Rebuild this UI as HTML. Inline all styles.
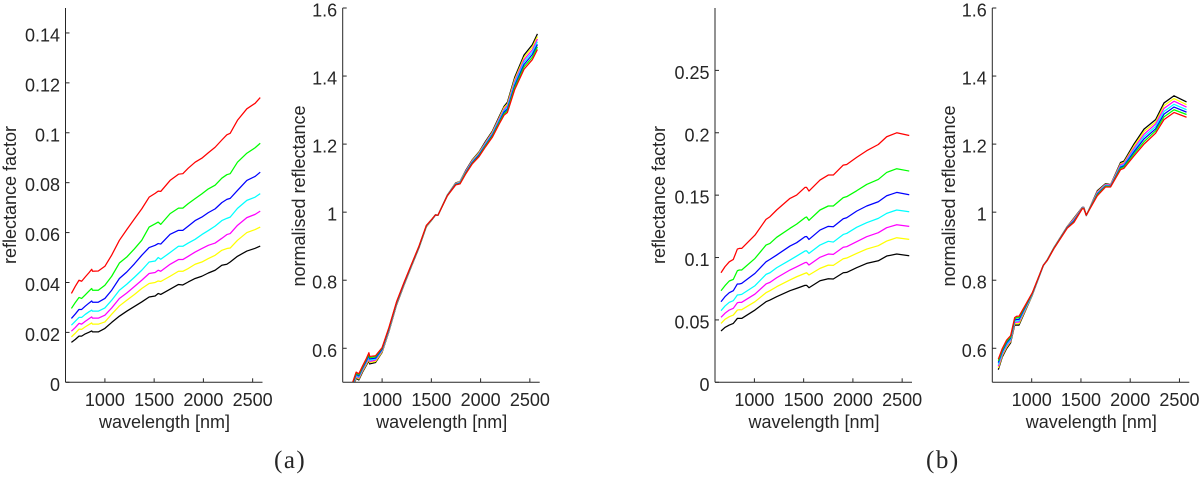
<!DOCTYPE html>
<html lang="en">
<head>
<meta charset="utf-8">
<title>Reflectance spectra</title>
<style>
html,body{margin:0;padding:0;background:#fff;width:1200px;height:478px;overflow:hidden}
svg{display:block}
text{font-family:"Liberation Sans",sans-serif;font-size:18px;fill:#262626}
.caption{font-family:"Liberation Serif",serif;font-size:25px;letter-spacing:1.5px}
</style>
</head>
<body>
<svg id="chart" width="1200" height="478" viewBox="0 0 1200 478" xmlns="http://www.w3.org/2000/svg">
<text class="caption" x="274" y="468">(a)</text>
<text class="caption" x="926" y="468">(b)</text>
</svg>
<script>
const seriesNames = ['black','yellow','magenta','cyan','blue','green','red'];
const seriesColors = ['#000000','#ffff00','#ff00ff','#00ffff','#0000ff','#00ff00','#ff0000'];
const xTicks = [1000,1500,2000,2500];
const yTicksA = [0,0.02,0.04,0.06,0.08,0.1,0.12,0.14];
const yTicksB = [0.6,0.8,1,1.2,1.4,1.6];
const yTicksC = [0,0.05,0.1,0.15,0.2,0.25];
const yTicksD = [0.6,0.8,1,1.2,1.4,1.6];

const wavelengthsAB = [660,700,737,764,800,840,866,874,933,1000,1069,1147,1222,1300,1374,1449,1510,1541,1567,1662,1747,1791,1846,1916,1984,2050,2119,2187,2238,2272,2346,2441,2525,2577];
const wavelengthsCD = [661,701,745,786,827,847,871,1006,1118,1158,1226,1361,1429,1513,1530,1554,1666,1750,1801,1902,1937,2038,2140,2258,2343,2445,2572];

const reflA = {
  red:[.0356,.0385,.0409,.0405,.0422,.044,.0453,.0445,.0446,.0465,.051,.0569,.0612,.0655,.0695,.0742,.0757,.0766,.0765,.0809,.0834,.0836,.0858,.0882,.0898,.092,.0942,.0971,.0992,.0998,.105,.1096,.1118,.1141],
  green:[.0296,.032,.034,.0336,.035,.0366,.0376,.0369,.0369,.0389,.0425,.0478,.0502,.0535,.0569,.0622,.0635,.0642,.0633,.0676,.0698,.0698,.0716,.0736,.0755,.0775,.079,.0818,.0832,.0836,.0882,.0918,.094,.0958],
  blue:[.0256,.0274,.0292,.0292,.0305,.0318,.0326,.0321,.0321,.0336,.0369,.0416,.0442,.0475,.0509,.054,.0549,.0556,.0554,.0593,.0609,.0609,.0626,.0648,.0662,.068,.0695,.072,.0733,.0737,.0769,.0809,.0825,.0842],
  cyan:[.0229,.0245,.026,.026,.0272,.0283,.0289,.0285,.0285,.0298,.0329,.0369,.0393,.0421,.0449,.0482,.0486,.05,.0493,.052,.0545,.0545,.0558,.0573,.0592,.0608,.0626,.0648,.0657,.0662,.0697,.0729,.0742,.0756],
  magenta:[.0205,.022,.0236,.0233,.0244,.0255,.0262,.0257,.0257,.0269,.0298,.0336,.0358,.0384,.0409,.0436,.044,.0449,.0445,.0473,.0492,.0492,.0505,.0522,.0536,.0549,.0558,.0577,.0592,.0596,.0629,.066,.0673,.0686],
  yellow:[.0182,.0197,.0213,.0212,.0222,.0232,.0238,.0233,.0233,.0242,.0273,.0306,.0329,.0352,.0376,.0396,.04,.0406,.0404,.0425,.0445,.0445,.0456,.0473,.0482,.0496,.0509,.0529,.0536,.0538,.0569,.06,.0612,.0622],
  black:[.016,.0172,.0185,.0185,.0194,.0201,.0206,.0202,.0202,.0216,.024,.0265,.0285,.0304,.0322,.0342,.0346,.0356,.0352,.0373,.0392,.039,.0402,.0416,.0425,.0438,.0449,.0469,.0473,.0482,.0505,.0526,.0537,.0546]
};
const normB = {
  red:[.461,.499,.530,.525,.547,.570,.587,.576,.578,.602,.661,.737,.793,.848,.900,.961,.981,.992,.991,1.048,1.080,1.083,1.111,1.142,1.163,1.192,1.220,1.258,1.285,1.293,1.360,1.420,1.448,1.478],
  green:[.458,.496,.527,.522,.544,.567,.583,.572,.575,.600,.659,.735,.792,.847,.899,.960,.981,.992,.991,1.048,1.081,1.084,1.113,1.144,1.165,1.195,1.223,1.262,1.289,1.298,1.366,1.427,1.455,1.486],
  blue:[.455,.493,.524,.519,.541,.563,.579,.569,.571,.597,.657,.734,.790,.846,.898,.960,.980,.992,.991,1.049,1.082,1.085,1.114,1.146,1.168,1.197,1.226,1.265,1.294,1.303,1.372,1.434,1.463,1.493],
  cyan:[.452,.490,.521,.516,.538,.560,.575,.565,.568,.595,.655,.733,.789,.845,.898,.959,.980,.992,.991,1.049,1.083,1.087,1.116,1.148,1.170,1.200,1.229,1.269,1.298,1.308,1.378,1.441,1.470,1.501],
  magenta:[.449,.487,.518,.513,.535,.557,.571,.561,.565,.593,.653,.731,.788,.844,.897,.958,.980,.991,.991,1.049,1.084,1.088,1.118,1.150,1.172,1.203,1.232,1.273,1.302,1.313,1.384,1.448,1.477,1.509],
  yellow:[.446,.484,.515,.510,.532,.553,.567,.558,.561,.590,.651,.730,.786,.843,.896,.957,.979,.991,.991,1.050,1.085,1.089,1.119,1.152,1.175,1.205,1.235,1.276,1.307,1.318,1.390,1.455,1.485,1.516],
  black:[.443,.481,.512,.507,.529,.550,.563,.554,.558,.588,.649,.728,.785,.842,.895,.957,.979,.991,.991,1.050,1.086,1.090,1.121,1.154,1.177,1.208,1.238,1.280,1.311,1.323,1.396,1.462,1.492,1.524]
};
const reflC = {
  red:[.0878,.0926,.0966,.0985,.1068,.1073,.1073,.118,.1306,.1327,.1381,.1474,.1501,.1562,.1562,.1533,.1621,.1661,.1661,.1741,.1746,.1803,.1856,.1906,.1968,.2,.1978],
  green:[.0734,.0774,.0812,.0825,.0894,.09,.09,.0993,.11,.1113,.1162,.1234,.1268,.1319,.1325,.1298,.1381,.1413,.1413,.148,.1488,.1535,.1586,.1626,.1682,.1712,.1693],
  blue:[.0646,.0686,.0718,.0734,.0788,.0788,.0793,.0873,.0966,.0985,.102,.1092,.1119,.1167,.1169,.1145,.122,.125,.1247,.1311,.1319,.1372,.1413,.1447,.1495,.1522,.1503],
  cyan:[.0574,.0611,.0641,.0654,.07,.0702,.0705,.0774,.0865,.0878,.0918,.098,.1012,.1052,.1054,.1033,.11,.113,.1124,.1185,.1193,.1242,.1279,.1314,.1354,.1381,.1367],
  magenta:[.0521,.0553,.0579,.0593,.0638,.0641,.0641,.0707,.0788,.0801,.0838,.09,.0926,.0959,.0961,.094,.1002,.1028,.1025,.1082,.1087,.1127,.1167,.1199,.1239,.1263,.125],
  yellow:[.0472,.0505,.0526,.0539,.0579,.0582,.0582,.0646,.0718,.0734,.0766,.082,.0846,.0873,.0878,.086,.0913,.0939,.0937,.099,.0996,.1033,.1068,.1095,.1132,.1159,.1146],
  black:[.0411,.044,.0459,.0472,.0512,.0512,.0512,.0579,.0646,.0659,.0686,.0734,.0753,.0777,.0777,.0758,.0814,.083,.0828,.0878,.0881,.0919,.0953,.0974,.1012,.1028,.1014]
};
const normD = {
  red:[.568,.599,.624,.637,.690,.694,.694,.763,.844,.858,.893,.953,.970,1.010,1.010,.991,1.048,1.074,1.074,1.125,1.129,1.165,1.200,1.232,1.272,1.293,1.279],
  green:[.563,.595,.620,.633,.686,.690,.690,.762,.844,.858,.894,.954,.972,1.011,1.011,.991,1.051,1.076,1.075,1.129,1.133,1.171,1.207,1.239,1.280,1.301,1.287],
  blue:[.558,.591,.616,.630,.683,.685,.685,.761,.844,.859,.894,.955,.974,1.011,1.011,.991,1.053,1.077,1.076,1.132,1.136,1.177,1.215,1.245,1.288,1.309,1.294],
  cyan:[.552,.586,.611,.626,.679,.681,.681,.759,.843,.859,.894,.955,.976,1.012,1.012,.990,1.055,1.079,1.077,1.135,1.139,1.182,1.222,1.252,1.296,1.317,1.301],
  magenta:[.547,.582,.607,.623,.675,.677,.677,.758,.843,.859,.895,.956,.979,1.013,1.013,.990,1.058,1.081,1.079,1.139,1.143,1.188,1.229,1.259,1.305,1.326,1.309],
  yellow:[.542,.578,.603,.620,.672,.672,.672,.757,.843,.860,.895,.957,.981,1.013,1.013,.990,1.060,1.082,1.080,1.142,1.146,1.194,1.237,1.265,1.313,1.334,1.316],
  black:[.537,.574,.599,.616,.668,.668,.668,.756,.843,.860,.896,.958,.983,1.014,1.014,.990,1.063,1.084,1.081,1.146,1.150,1.200,1.244,1.272,1.321,1.342,1.324]
};

const panels = [
  {id:'a-reflectance', left:65.5, yMin:0, yMax:0.15, yTicks:yTicksA, xs:wavelengthsAB, data:reflA, yLabel:'reflectance factor', yLabelX:16, yLabelY:195},
  {id:'a-normalised', left:342.7, yMin:0.5, yMax:1.6, yTicks:yTicksB, xs:wavelengthsAB, data:normB, yLabel:'normalised reflectance', yLabelX:305, yLabelY:196},
  {id:'b-reflectance', left:715, yMin:0, yMax:0.3, yTicks:yTicksC, xs:wavelengthsCD, data:reflC, yLabel:'reflectance factor', yLabelX:665, yLabelY:195},
  {id:'b-normalised', left:992.3, yMin:0.5, yMax:1.6, yTicks:yTicksD, xs:wavelengthsCD, data:normD, yLabel:'normalised reflectance', yLabelX:955, yLabelY:196}
];

const NS = 'http://www.w3.org/2000/svg';
const svg = document.getElementById('chart');
const axisColor = '#262626';
const plotTop = 8;
const plotBottom = 382.3;
const plotWidth = 197;
const xMin = 600;
const xMax = 2600;

function make(parent, tag, attrs, text) {
  const el = document.createElementNS(NS, tag);
  for (const k in attrs) el.setAttribute(k, attrs[k]);
  if (text !== undefined) el.textContent = text;
  parent.appendChild(el);
  return el;
}

panels.forEach(function (p) {
  const xScale = function (v) { return p.left + (v - xMin) / (xMax - xMin) * plotWidth; };
  const yScale = function (v) { return plotBottom - (v - p.yMin) / (p.yMax - p.yMin) * (plotBottom - plotTop); };

  const group = make(svg, 'g', {});
  
  

  const clip = make(svg, 'clipPath', {id: 'clip-' + p.id});
  make(clip, 'rect', {x: p.left, y: plotTop, width: plotWidth, height: plotBottom - plotTop});

  const lines = make(group, 'g', {'clip-path': 'url(#clip-' + p.id + ')'});
  
  
  seriesNames.forEach(function (name, i) {
    const pts = p.data[name].map(function (v, j) {
      return xScale(p.xs[j]).toFixed(2) + ',' + yScale(v).toFixed(2);
    }).join(' ');
    const line = make(lines, 'polyline', {points: pts, fill: 'none', stroke: seriesColors[i], 'stroke-width': 1.25, 'stroke-linejoin': 'round'});
    
    
  });

  const yAxis = make(group, 'line', {x1: p.left, x2: p.left, y1: plotTop, y2: plotBottom, stroke: axisColor, 'stroke-width': 1});
  
  
  const xAxis = make(group, 'line', {x1: p.left, x2: p.left + plotWidth, y1: plotBottom, y2: plotBottom, stroke: axisColor, 'stroke-width': 1});
  
  

  xTicks.forEach(function (t) {
    const x = xScale(t);
    const tick = make(group, 'line', {x1: x, x2: x, y1: plotBottom, y2: plotBottom - 4, stroke: axisColor, 'stroke-width': 1});
    
    
    const label = make(group, 'text', {x: x, y: 406, 'text-anchor': 'middle'}, String(t));
    
    
  });

  p.yTicks.forEach(function (t) {
    const y = yScale(t);
    const tick = make(group, 'line', {x1: p.left, x2: p.left + 4, y1: y, y2: y, stroke: axisColor, 'stroke-width': 1});
    
    
    const label = make(group, 'text', {x: p.left - 5.5, y: y + 8.5, 'text-anchor': 'end'}, String(t));
    
    
  });

  const xTitle = make(group, 'text', {x: p.left + plotWidth / 2 + 0.5, y: 428, 'text-anchor': 'middle'}, 'wavelength [nm]');
  
  
  const yTitle = make(group, 'text', {x: 0, y: 0, 'text-anchor': 'middle', transform: 'translate(' + p.yLabelX + ',' + p.yLabelY + ') rotate(-90)'}, p.yLabel);
  
  
});
</script>
</body>
</html>
